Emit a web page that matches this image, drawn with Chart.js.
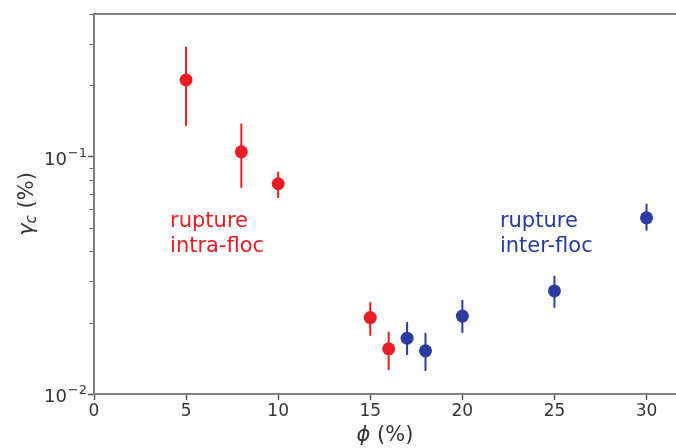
<!DOCTYPE html>
<html>
<head>
<meta charset="utf-8">
<script src="https://cdn.jsdelivr.net/npm/chart.js@4.4.1/dist/chart.umd.min.js"></script>
<style>
  html, body { margin: 0; padding: 0; background: #fff; }
  #wrap { width: 676px; height: 448px; position: relative; }
</style>
</head>
<body>
<div id="wrap"><canvas id="c" width="676" height="448"></canvas></div>
<script>
// ---- data ----
const phiIntra = [5, 8, 10, 15, 16];
const gammaIntra = [0.211, 0.105, 0.077, 0.021, 0.0155];
const gammaIntraLow = [0.135, 0.074, 0.067, 0.0176, 0.0126];
const gammaIntraHigh = [0.291, 0.138, 0.0865, 0.0244, 0.0183];

const phiInter = [17, 18, 20, 25, 30];
const gammaInter = [0.0172, 0.0152, 0.0213, 0.0272, 0.0553];
const gammaInterLow = [0.0146, 0.0125, 0.0181, 0.0231, 0.0488];
const gammaInterHigh = [0.0201, 0.0181, 0.0249, 0.0315, 0.0634];

const xTicks = [0, 5, 10, 15, 20, 25, 30];
const yTicks = [0.01, 0.1];
const yTickBase = ['10', '10'];
const yTickExp = ['\u22122', '\u22121'];
const yMinorTicks = [0.02,0.03,0.04,0.05,0.06,0.07,0.08,0.09,0.2,0.3,0.4];

const labelIntra = ['rupture', 'intra-floc'];
const labelInter = ['rupture', 'inter-floc'];
const labelIntraPos = [4.13, 0.0507];
const labelInterPos = [22.04, 0.0507];

const RED = '#ec1c24';
const BLUE = '#2b3a9f';
const AXIS = '#808080';
const TXT = '#333333';

const errorBars = {
  id: 'errorBars',
  beforeDatasetsDraw(chart) {
    const ctx = chart.ctx, xs = chart.scales.x, ys = chart.scales.y;
    const groups = [
      [phiIntra, gammaIntraLow, gammaIntraHigh, RED],
      [phiInter, gammaInterLow, gammaInterHigh, BLUE]
    ];
    ctx.save();
    ctx.lineWidth = 2;
    groups.forEach(([xv, lo, hi, col]) => {
      ctx.strokeStyle = col;
      xv.forEach((x, i) => {
        const px = xs.getPixelForValue(x);
        ctx.beginPath();
        ctx.moveTo(px, ys.getPixelForValue(lo[i]));
        ctx.lineTo(px, ys.getPixelForValue(hi[i]));
        ctx.stroke();
      });
    });
    ctx.restore();
  }
};

const decorations = {
  id: 'decorations',
  afterDraw(chart) {
    const ctx = chart.ctx, xs = chart.scales.x, ys = chart.scales.y;
    const ca = chart.chartArea;
    ctx.save();
    // top spine
    ctx.strokeStyle = AXIS;
    ctx.lineWidth = 2;
    ctx.beginPath();
    ctx.moveTo(ca.left - 1, ca.top);
    ctx.lineTo(ca.right, ca.top);
    ctx.stroke();
    // minor log ticks
    ctx.strokeStyle = '#666';
    ctx.lineWidth = 1;
    yMinorTicks.forEach(v => {
      const py = Math.round(ys.getPixelForValue(v)) + 0.5;
      ctx.beginPath();
      ctx.moveTo(ca.left - 1, py);
      ctx.lineTo(ca.left - 4.5, py);
      ctx.stroke();
    });
    // y tick labels 10^k
    ctx.fillStyle = TXT;
    ctx.textBaseline = 'alphabetic';
    ctx.textAlign = 'left';
    yTicks.forEach((v, i) => {
      const py = ys.getPixelForValue(v);
      ctx.font = '13px "DejaVu Sans"';
      const wE = ctx.measureText(yTickExp[i]).width;
      ctx.font = '18px "DejaVu Sans"';
      const wB = ctx.measureText(yTickBase[i]).width;
      const right = ca.left - 7;
      const x0 = right - wE - wB - 1;
      ctx.fillText(yTickBase[i], x0, py + 8);
      ctx.font = '13px "DejaVu Sans"';
      ctx.fillText(yTickExp[i], x0 + wB + 1, py);
    });
    // annotations
    ctx.font = '21px "DejaVu Sans"';
    ctx.textBaseline = 'alphabetic';
    const drawLabel = (lines, pos, col) => {
      ctx.fillStyle = col;
      const px = xs.getPixelForValue(pos[0]);
      const py = ys.getPixelForValue(pos[1]);
      lines.forEach((t, i) => ctx.fillText(t, px, py + i * 25));
    };
    drawLabel(labelIntra, labelIntraPos, RED);
    drawLabel(labelInter, labelInterPos, BLUE);
    // x axis title: phi (%)
    ctx.fillStyle = TXT;
    const phiFont = 'italic 21px "DejaVu Sans"';
    const restFont = '21px "DejaVu Sans"';
    ctx.font = phiFont;
    const wPhi = ctx.measureText('\u03D5').width;
    ctx.font = restFont;
    const wRest = ctx.measureText(' (%)').width;
    const cx = (ca.left + ca.right) / 2;
    const xStart = cx - (wPhi + wRest) / 2;
    const by = 441;
    ctx.font = phiFont;
    ctx.fillText('\u03D5', xStart, by);
    ctx.font = restFont;
    ctx.fillText(' (%)', xStart + wPhi, by);
    // y axis title: gamma_c (%)
    ctx.translate(33, (ca.top + ca.bottom) / 2);
    ctx.rotate(-Math.PI / 2);
    const gFont = 'italic 21px "DejaVu Sans"';
    const sFont = 'italic 15px "DejaVu Sans"';
    ctx.font = gFont;
    const wG = ctx.measureText('\u03B3').width;
    ctx.font = sFont;
    const wC = ctx.measureText('c').width;
    ctx.font = restFont;
    const wP = ctx.measureText(' (%)').width;
    let sx = -(wG + wC + wP) / 2;
    ctx.font = gFont;
    ctx.fillText('\u03B3', sx, 0);
    sx += wG;
    ctx.font = sFont;
    ctx.fillText('c', sx, 3);
    sx += wC;
    ctx.font = restFont;
    ctx.fillText(' (%)', sx, 0);
    ctx.restore();
  }
};

new Chart(document.getElementById('c'), {
  type: 'scatter',
  data: {
    datasets: [
      {
        label: 'intra-floc',
        data: phiIntra.map((x, i) => ({ x, y: gammaIntra[i] })),
        backgroundColor: RED, borderColor: RED,
        pointRadius: 6.5, pointHoverRadius: 6.5, borderWidth: 0
      },
      {
        label: 'inter-floc',
        data: phiInter.map((x, i) => ({ x, y: gammaInter[i] })),
        backgroundColor: BLUE, borderColor: BLUE,
        pointRadius: 6.5, pointHoverRadius: 6.5, borderWidth: 0
      }
    ]
  },
  options: {
    responsive: false,
    animation: false,
    events: [],
    layout: { autoPadding: false, padding: { top: 14, right: 0, left: 0, bottom: 0 } },
    plugins: { legend: { display: false }, tooltip: { enabled: false } },
    scales: {
      x: {
        type: 'linear',
        min: 0, max: 31.6,
        afterBuildTicks(axis) { axis.ticks = xTicks.map(v => ({ value: v })); },
        afterFit(axis) { axis.height = 54; axis.paddingRight = 0; axis.paddingLeft = 0; },
        ticks: { color: TXT, font: { family: 'DejaVu Sans', size: 17 }, padding: 1, maxRotation: 0, autoSkip: false },
        grid: { drawOnChartArea: false, drawTicks: true, tickLength: 6, tickColor: '#555', tickWidth: 1.5 },
        border: { display: true, color: AXIS, width: 2 }
      },
      y: {
        type: 'logarithmic',
        min: 0.01, max: 0.4,
        afterBuildTicks(axis) { axis.ticks = yTicks.map(v => ({ value: v })); },
        afterFit(axis) { axis.width = 94; axis.paddingTop = 0; axis.paddingBottom = 0; },
        ticks: { autoSkip: false, callback() { return ''; } },
        grid: { drawOnChartArea: false, drawTicks: true, tickLength: 6, tickColor: '#555', tickWidth: 1.5 },
        border: { display: true, color: AXIS, width: 2 }
      }
    }
  },
  plugins: [errorBars, decorations]
});
</script>
</body>
</html>
